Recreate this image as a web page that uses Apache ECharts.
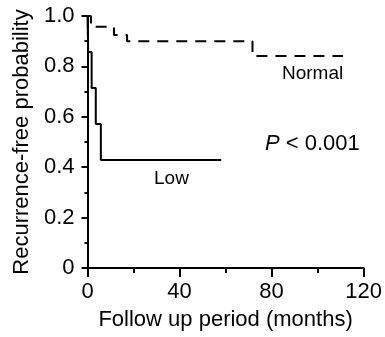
<!DOCTYPE html>
<html>
<head>
<meta charset="utf-8">
<script src="https://cdn.jsdelivr.net/npm/echarts@6/dist/echarts.min.js"></script>
<style>
  html, body { margin: 0; padding: 0; background: #fff; }
  #chart { width: 385px; height: 337px; }
</style>
</head>
<body>
<div id="chart"></div>
<script>
// Kaplan-Meier curves (months, survival)
const lowTimes = [0, 0.3, 1.8, 3.6, 5.8, 58.1];
const lowSurv = [1, 0.857, 0.714, 0.571, 0.429, 0.429];
const normalTimes = [0, 1.5, 11.5, 17.2, 71.7, 111];
const normalSurv = [1, 0.957, 0.925, 0.9, 0.841, 0.841];
const xTicks = [0, 40, 80, 120];
const yTicks = [0, 0.2, 0.4, 0.6, 0.8, 1.0];

const font = 'Liberation Sans, Arial, sans-serif';

const pairs = (xs, ys) => xs.map((x, i) => [x, ys[i]]);

const chart = echarts.init(document.getElementById('chart'));

const option = {
  animation: false,
  grid: {
    left: 87.5,
    right: 17,
    top: 16,
    bottom: 69
  },
  xAxis: {
    type: 'value',
    min: xTicks[0],
    max: xTicks[xTicks.length - 1],
    interval: 40,
    name: 'Follow up period (months)',
    nameLocation: 'middle',
    nameGap: 41,
    nameTextStyle: { color: '#000', fontSize: 22, fontFamily: font },
    axisLine: { lineStyle: { color: '#000', width: 2 } },
    axisTick: { show: true, length: 9, lineStyle: { color: '#000', width: 2 } },
    minorTick: { show: true, splitNumber: 2, length: 5, lineStyle: { color: '#000', width: 2 } },
    axisLabel: { color: '#000', fontSize: 22, fontFamily: font, margin: 13 },
    splitLine: { show: false }
  },
  yAxis: {
    type: 'value',
    min: yTicks[0],
    max: yTicks[yTicks.length - 1],
    interval: 0.2,
    name: 'Recurrence-free probability',
    nameLocation: 'middle',
    nameGap: 55,
    nameTextStyle: { color: '#000', fontSize: 22, fontFamily: font },
    axisLine: { show: true, lineStyle: { color: '#000', width: 2 } },
    axisTick: { show: true, length: 6, lineStyle: { color: '#000', width: 2 } },
    minorTick: { show: true, splitNumber: 2, length: 3, lineStyle: { color: '#000', width: 2 } },
    axisLabel: {
      color: '#000', fontSize: 22, fontFamily: font, margin: 13,
      formatter: v => (v === 0 ? '0' : v.toFixed(1))
    },
    splitLine: { show: false }
  },
  series: [
    {
      name: 'Normal',
      type: 'line',
      step: 'end',
      symbol: 'none',
      lineStyle: { color: '#000', width: 2, type: [11, 8] },
      data: pairs(normalTimes, normalSurv)
    },
    {
      name: 'Low',
      type: 'line',
      step: 'end',
      symbol: 'none',
      lineStyle: { color: '#000', width: 2 },
      data: pairs(lowTimes, lowSurv)
    }
  ],
  graphic: [
    {
      type: 'text', left: 282, top: 64,
      style: { text: 'Normal', fill: '#000', fontSize: 19, fontFamily: font }
    },
    {
      type: 'text', left: 154, top: 169,
      style: { text: 'Low', fill: '#000', fontSize: 19, fontFamily: font }
    },
    {
      type: 'text', left: 265, top: 133,
      style: {
        text: '{i|P} < 0.001',
        fill: '#000', fontSize: 22, fontFamily: font,
        rich: { i: { fontStyle: 'italic', fontSize: 22, fontFamily: font, fill: '#000' } }
      }
    }
  ]
};

chart.setOption(option);
</script>
</body>
</html>
